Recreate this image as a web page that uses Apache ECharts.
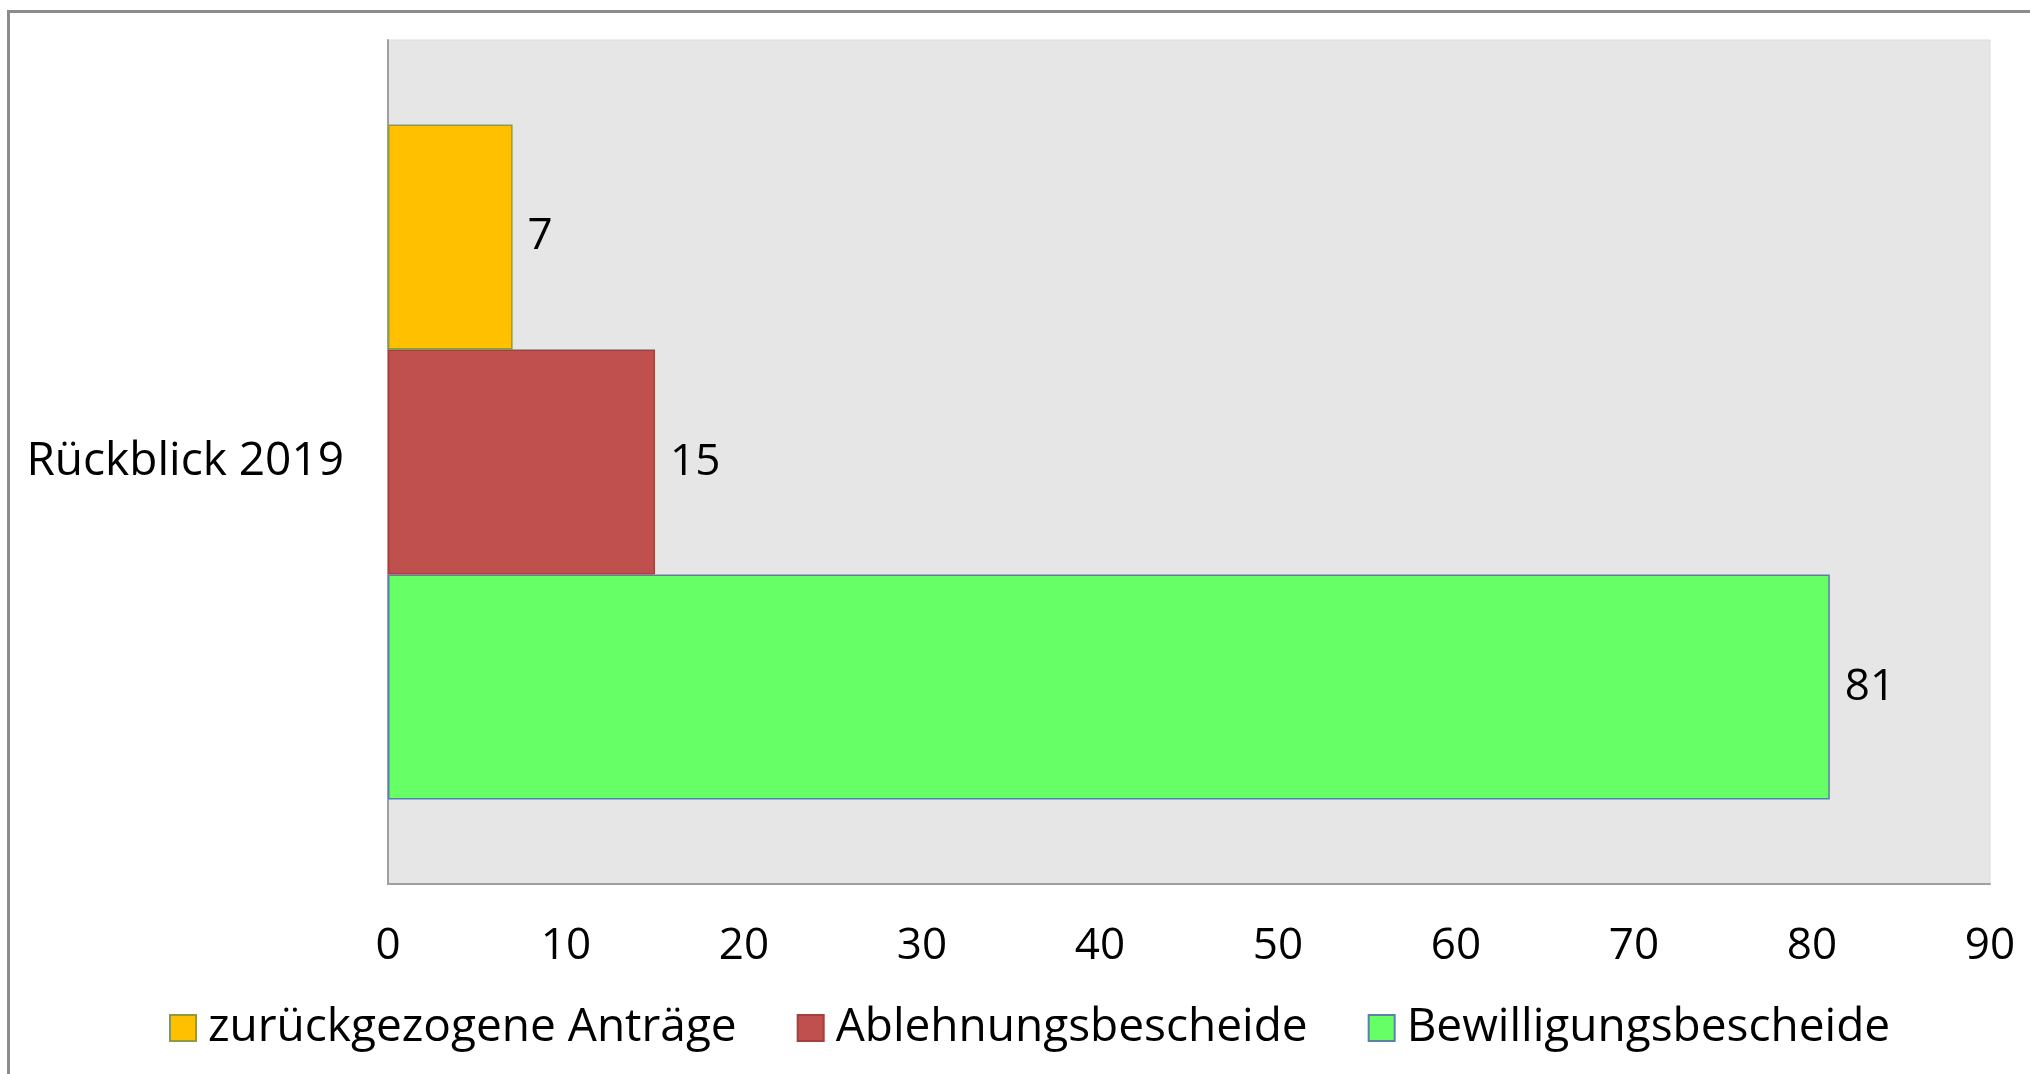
<!DOCTYPE html>
<html>
<head>
<meta charset="utf-8">
<script src="https://cdn.jsdelivr.net/npm/echarts@6/dist/echarts.min.js"></script>
<style>
    html, body { margin: 0; padding: 0; background: #fff; }
    #chart { width: 2030px; height: 1074px; }
</style>
</head>
<body>
<div id="chart"></div>
<script>
const categories = ['Rückblick 2019']
const seriesNames = ['zurückgezogene Anträge', 'Ablehnungsbescheide', 'Bewilligungsbescheide']
const zurueckgezogen = [7]
const ablehnung = [15]
const bewilligung = [81]
const xTicks = [0, 90, 10] // min, max, interval

const fontFamily = 'Open Sans'
const colors = ['#ffc000', '#c0504d', '#66ff66']
const borders = ['#8f9a46', '#a5403d', '#5b7fa6']

const myChart = echarts.init(document.getElementById('chart'))
const valuesList = [zurueckgezogen, ablehnung, bewilligung]

let option = {
    backgroundColor: '#fff',
    animation: false,
    textStyle: { fontFamily: fontFamily, color: '#000' },
    graphic: [
        {
            type: 'rect',
            shape: { x: 8.5, y: 11.5, width: 2100, height: 1100 },
            style: { fill: 'none', stroke: '#8c8c8c', lineWidth: 3 },
            silent: true
        }
    ],
    grid: {
        left: 388,
        right: 40,
        top: 40,
        bottom: 190,
        show: true,
        backgroundColor: '#e6e6e6',
        borderColor: '#dcdcdc',
        borderWidth: 1
    },
    legend: {
        data: seriesNames,
        left: 164,
        top: 1000,
        itemWidth: 26,
        itemHeight: 26,
        itemGap: 60,
        icon: 'rect',
        textStyle: { fontSize: 46, fontFamily: fontFamily, color: '#000', padding: [0, 0, 0, 7] }
    },
    xAxis: {
        type: 'value',
        min: xTicks[0],
        max: xTicks[1],
        interval: xTicks[2],
        axisLine: { show: true, lineStyle: { color: '#a0a0a0', width: 2 } },
        axisTick: { show: false },
        splitLine: { show: false },
        axisLabel: { fontSize: 44, color: '#000', margin: 40, fontFamily: fontFamily }
    },
    yAxis: {
        type: 'category',
        data: categories,
        axisLine: { show: true, lineStyle: { color: '#a0a0a0', width: 2 } },
        axisTick: { show: false },
        axisLabel: { fontSize: 46, color: '#000', margin: 44, fontFamily: fontFamily }
    },
    series: seriesNames.map((name, i) => ({
        name: name,
        type: 'bar',
        data: valuesList[i],
        barGap: '0%',
        barCategoryGap: '20%',
        itemStyle: { color: colors[i], borderColor: borders[i], borderWidth: 1.5 },
        label: {
            show: true,
            position: 'right',
            distance: 15,
            fontSize: 44,
            color: '#000',
            fontFamily: fontFamily
        }
    }))
}
option && myChart.setOption(option)
</script>
</body>
</html>
